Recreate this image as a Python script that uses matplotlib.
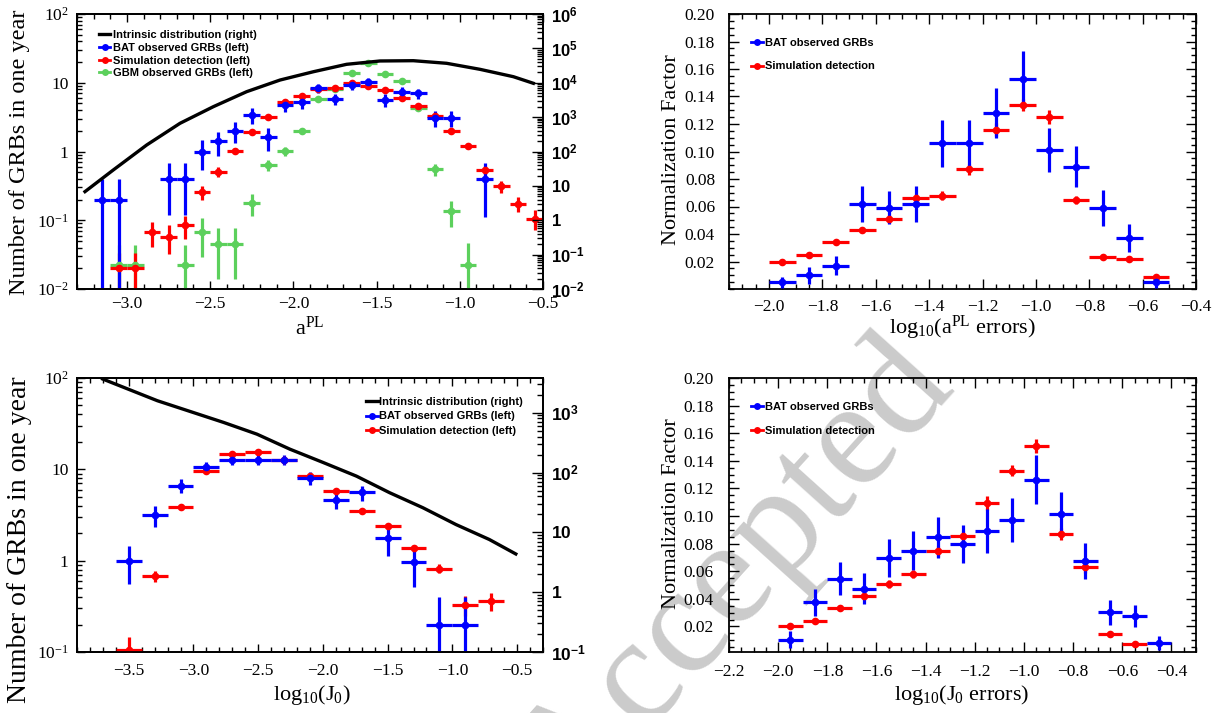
import matplotlib
matplotlib.use('Agg')
import matplotlib.pyplot as plt
from matplotlib.ticker import (FixedLocator, FixedFormatter, MultipleLocator,
                               NullFormatter, LogLocator, StrMethodFormatter)
from matplotlib.lines import Line2D
import numpy as np

# ---------------- data: top-left (a^PL) ----------------
tl_bat_x = [-3.15, -3.05, -2.75, -2.65, -2.55, -2.45, -2.35, -2.25, -2.15, -2.05, -1.95,
            -1.85, -1.75, -1.65, -1.55, -1.45, -1.35, -1.25, -1.15, -1.05, -0.85]
tl_bat_y = [0.2, 0.2, 0.4, 0.4, 1.0, 1.4, 2.0, 3.4, 1.6, 4.8, 5.2,
            8.3, 5.8, 9.3, 10.3, 5.7, 7.4, 7.0, 3.1, 3.1, 0.40]
tl_bat_e = [0.2, 0.2, 0.28, 0.28, 0.46, 0.55, 0.65, 0.85, 0.58, 1.0, 1.0,
            1.3, 1.1, 1.4, 1.5, 1.25, 1.2, 1.2, 0.8, 0.8, 0.29]

tl_sim_x = [-3.05, -2.95, -2.85, -2.75, -2.65, -2.55, -2.45, -2.35, -2.25, -2.15, -2.05,
            -1.95, -1.85, -1.75, -1.65, -1.55, -1.45, -1.35, -1.25, -1.15, -1.05,
            -0.95, -0.85, -0.75, -0.65, -0.55]
tl_sim_y = [0.02, 0.02, 0.068, 0.058, 0.085, 0.26, 0.51, 1.03, 1.9, 3.2, 5.2,
            6.4, 8.0, 8.5, 9.8, 8.9, 7.8, 6.1, 4.6, 3.3, 2.0,
            1.2, 0.53, 0.31, 0.175, 0.106]
tl_sim_e = [0.013, 0.013, 0.027, 0.026, 0.032, 0.06, 0.08, 0.11, 0.15, 0.2, 0.26,
            0.29, 0.32, 0.33, 0.36, 0.34, 0.32, 0.28, 0.24, 0.2, 0.16,
            0.12, 0.08, 0.06, 0.045, 0.035]

tl_gbm_x = [-3.05, -2.95, -2.65, -2.55, -2.45, -2.35, -2.25, -2.15, -2.05, -1.95,
            -1.85, -1.75, -1.65, -1.55, -1.45, -1.35, -1.25, -1.15, -1.05, -0.95]
tl_gbm_y = [0.022, 0.022, 0.022, 0.068, 0.045, 0.045, 0.18, 0.63, 1.02, 2.0,
            5.8, 8.0, 14.0, 19.6, 13.2, 10.7, 4.3, 0.55, 0.135, 0.022]
tl_gbm_e = [0.022, 0.022, 0.022, 0.039, 0.031, 0.031, 0.063, 0.118, 0.15, 0.21,
            0.36, 0.42, 0.55, 0.66, 0.54, 0.49, 0.31, 0.11, 0.055, 0.024]

tl_int_x = [-3.252, -3.082, -2.881, -2.681, -2.481, -2.281, -2.080, -1.880,
            -1.680, -1.479, -1.279, -1.079, -0.879, -0.678, -0.558]
tl_int_y = [6.8, 29, 155, 661, 2010, 5490, 12000, 20900,
            34400, 43000, 43800, 36800, 24600, 15000, 9640]

# ---------------- data: top-right (a^PL errors) ----------------
tr_x = [-1.95, -1.85, -1.75, -1.65, -1.55, -1.45, -1.35, -1.25, -1.15, -1.05,
        -0.95, -0.85, -0.75, -0.65, -0.55]
tr_bat_y = [0.005, 0.010, 0.017, 0.062, 0.059, 0.062, 0.106, 0.106, 0.128, 0.153,
            0.101, 0.089, 0.059, 0.037, 0.005]
tr_bat_e = [0.004, 0.006, 0.007, 0.013, 0.012, 0.013, 0.017, 0.017, 0.018, 0.020,
            0.016, 0.015, 0.013, 0.010, 0.004]
tr_sim_y = [0.020, 0.025, 0.034, 0.043, 0.051, 0.066, 0.068, 0.087, 0.116, 0.134,
            0.125, 0.065, 0.0235, 0.022, 0.0085]
tr_sim_e = [0.002, 0.002, 0.002, 0.002, 0.003, 0.003, 0.003, 0.004, 0.005, 0.0045,
            0.005, 0.003, 0.002, 0.002, 0.0015]

# ---------------- data: bottom-left (J0) ----------------
bl_bat_x = [-3.5, -3.3, -3.1, -2.9, -2.7, -2.5, -2.3, -2.1, -1.9, -1.7, -1.5, -1.3, -1.1, -0.9]
bl_bat_y = [1.0, 3.16, 6.6, 10.7, 12.7, 12.7, 12.8, 8.0, 4.6, 5.6, 1.78, 0.97, 0.196, 0.196]
bl_bat_e = [0.45, 0.8, 1.15, 1.45, 1.6, 1.6, 1.6, 1.25, 0.95, 1.05, 0.65, 0.45, 0.2, 0.2]
bl_sim_x = [-3.5, -3.3, -3.1, -2.9, -2.7, -2.5, -2.3, -2.1, -1.9, -1.7, -1.5, -1.3, -1.1, -0.9, -0.7]
bl_sim_y = [0.105, 0.68, 3.9, 9.5, 14.7, 15.4, 12.7, 8.5, 5.8, 3.5, 2.4, 1.36, 0.82, 0.33, 0.36]
bl_sim_e = [0.04, 0.09, 0.2, 0.3, 0.37, 0.38, 0.34, 0.28, 0.23, 0.18, 0.15, 0.11, 0.09, 0.085, 0.08]
bl_int_x = [-3.702, -3.279, -2.767, -2.510, -2.254, -1.998, -1.741, -1.485,
            -1.228, -0.972, -0.715, -0.510]
bl_int_y = [3660, 1585, 687, 438, 245, 147, 87, 46, 25.8, 13.5, 7.6, 4.35]

# ---------------- data: bottom-right (J0 errors) ----------------
br_x = [-1.95, -1.85, -1.75, -1.65, -1.55, -1.45, -1.35, -1.25, -1.15, -1.05,
        -0.95, -0.85, -0.75, -0.65, -0.55, -0.45]
br_bat_y = [0.0104, 0.0374, 0.0546, 0.0474, 0.0696, 0.0749, 0.0846, 0.0797, 0.0894, 0.0969,
            0.1264, 0.1017, 0.0672, 0.0302, 0.0278, 0.008]
br_bat_e = [0.006, 0.010, 0.012, 0.011, 0.014, 0.014, 0.015, 0.014, 0.016, 0.016,
            0.018, 0.016, 0.013, 0.009, 0.008, 0.005]
br_sim_x = [-1.95, -1.85, -1.75, -1.65, -1.55, -1.45, -1.35, -1.25, -1.15, -1.05,
            -0.95, -0.85, -0.75, -0.65, -0.55]
br_sim_y = [0.0205, 0.0242, 0.0336, 0.0423, 0.0507, 0.058, 0.0744, 0.0853, 0.1094, 0.1329,
            0.1505, 0.087, 0.063, 0.0143, 0.0075]
br_sim_e = [0.002, 0.002, 0.002, 0.003, 0.003, 0.003, 0.004, 0.004, 0.005, 0.004,
            0.005, 0.004, 0.004, 0.002, 0.0015]

log_left_ticks = [1e-2, 1e-1, 1, 10, 100]
log_left_labels = [r'$\mathrm{10^{-2}}$', r'$\mathrm{10^{-1}}$', '1', '10', r'$\mathrm{10^{2}}$']
tl_right_ticks = [1e-2, 1e-1, 1, 10, 1e2, 1e3, 1e4, 1e5, 1e6]
tl_right_labels = [r'$\mathbf{10^{-2}}$', r'$\mathbf{10^{-1}}$', r'$\mathbf{1}$', r'$\mathbf{10}$',
                   r'$\mathbf{10^{2}}$', r'$\mathbf{10^{3}}$', r'$\mathbf{10^{4}}$',
                   r'$\mathbf{10^{5}}$', r'$\mathbf{10^{6}}$']
bl_left_ticks = [1e-1, 1, 10, 100]
bl_left_labels = [r'$\mathrm{10^{-1}}$', '1', '10', r'$\mathrm{10^{2}}$']
bl_right_ticks = [1e-1, 1, 10, 1e2, 1e3]
bl_right_labels = [r'$\mathbf{10^{-1}}$', r'$\mathbf{1}$', r'$\mathbf{10}$',
                   r'$\mathbf{10^{2}}$', r'$\mathbf{10^{3}}$']
norm_ticks = [0.02, 0.04, 0.06, 0.08, 0.10, 0.12, 0.14, 0.16, 0.18, 0.20]

# ---------------- style ----------------
plt.rcParams['font.family'] = ['Liberation Serif', 'DejaVu Serif']
plt.rcParams['mathtext.fontset'] = 'custom'
plt.rcParams['mathtext.rm'] = 'Liberation Serif'
plt.rcParams['mathtext.it'] = 'Liberation Serif:italic'
plt.rcParams['mathtext.bf'] = 'Liberation Sans:bold'
plt.rcParams['axes.linewidth'] = 1.3

BLUE = '#0000ff'
RED = '#ff0000'
GREEN = '#5cd05c'
LEG = {'family': 'Liberation Sans', 'weight': 'bold', 'size': 8}

W, H = 1226, 713
fig = plt.figure(figsize=(W / 100, H / 100), dpi=100)


def rect(l, t, r, b):
    return [l / W, 1 - b / H, (r - l) / W, (b - t) / H]


def fx(x):
    return x / W


def fy(y):
    return 1 - y / H


def eb(ax, x, y, xe, ye, c):
    ax.errorbar(x, y, xerr=xe, yerr=ye, fmt='o', color=c, ms=5.5, mew=0,
                elinewidth=2.3, capsize=0, zorder=3)


def ticks_in(ax, maj=7, mnr=3.5, **kw):
    ax.tick_params(which='both', direction='in', width=1.0, **kw)
    ax.tick_params(which='major', length=maj)
    ax.tick_params(which='minor', length=mnr)


ax_tl = fig.add_axes(rect(77, 14, 543, 289))
ax_tr = fig.add_axes(rect(729, 14, 1196, 289))
ax_bl = fig.add_axes(rect(77, 378, 543, 652))
ax_br = fig.add_axes(rect(729, 378, 1196, 652))
for a in (ax_tl, ax_tr, ax_bl, ax_br):
    a.set_facecolor('none')

# ---- watermark (behind everything) ----
fig.text(fx(737), fy(578), 'Accepted', rotation=48, fontsize=110, color='#cbcbcb',
         family='Liberation Serif', ha='center', va='center', rotation_mode='anchor', zorder=-1)

# ---------------- top-left ----------------
ax = ax_tl
ax.set_xlim(-3.3, -0.5)
ax.set_yscale('log')
ax.set_ylim(1e-2, 1e2)
eb(ax, tl_gbm_x, tl_gbm_y, 0.05, tl_gbm_e, GREEN)
eb(ax, tl_sim_x, tl_sim_y, 0.05, tl_sim_e, RED)
eb(ax, tl_bat_x, tl_bat_y, 0.05, tl_bat_e, BLUE)
ax.yaxis.set_major_locator(FixedLocator(log_left_ticks))
ax.yaxis.set_major_formatter(FixedFormatter(log_left_labels))
ax.yaxis.set_minor_locator(LogLocator(base=10, subs=np.arange(2, 10) * 1.0, numticks=30))
ax.yaxis.set_minor_formatter(NullFormatter())
ax.xaxis.set_major_locator(MultipleLocator(0.5))
ax.xaxis.set_minor_locator(MultipleLocator(0.1))
ticks_in(ax, maj=6, mnr=3.5, top=True, right=False, labelsize=12.5)
ax.tick_params(axis='y', pad=6)
ax.tick_params(axis='x', pad=5)
ax2 = ax.twinx()
ax2.set_yscale('log')
ax2.set_ylim(1e-2, 1e6)
ax2.plot(tl_int_x, tl_int_y, color='black', lw=2.4, zorder=2)
ax2.yaxis.set_major_locator(FixedLocator(tl_right_ticks))
ax2.yaxis.set_major_formatter(FixedFormatter(tl_right_labels))
ax2.yaxis.set_minor_locator(LogLocator(base=10, subs=np.arange(2, 10) * 1.0, numticks=30))
ax2.yaxis.set_minor_formatter(NullFormatter())
ticks_in(ax2, maj=8, mnr=4.5, labelsize=12, pad=6)
ax2.set_facecolor('none')
h_tl = [Line2D([], [], color='black', lw=2.4),
        Line2D([], [], color=BLUE, lw=2, marker='o', ms=5, mew=0),
        Line2D([], [], color=RED, lw=2, marker='o', ms=5, mew=0),
        Line2D([], [], color=GREEN, lw=2, marker='o', ms=5, mew=0)]
ax2.legend(h_tl, ['Intrinsic distribution (right)', 'BAT observed GRBs (left)',
                  'Simulation detection (left)', 'GBM observed GRBs (left)'],
           loc='upper left', bbox_to_anchor=(fx(99), fy(30)), bbox_transform=fig.transFigure,
           frameon=False, prop=LEG, handlelength=1.0, handletextpad=0.25,
           labelspacing=0.25, borderpad=0, borderaxespad=0)

# ---------------- top-right ----------------
ax = ax_tr
ax.set_xlim(-2.15, -0.4)
ax.set_ylim(0, 0.2)
eb(ax, tr_x, tr_sim_y, 0.05, tr_sim_e, RED)
eb(ax, tr_x, tr_bat_y, 0.05, tr_bat_e, BLUE)
ax.xaxis.set_major_locator(MultipleLocator(0.2))
ax.xaxis.set_minor_locator(MultipleLocator(0.05))
ax.yaxis.set_major_locator(FixedLocator(norm_ticks))
ax.yaxis.set_major_formatter(StrMethodFormatter('{x:.2f}'))
ax.yaxis.set_minor_locator(MultipleLocator(0.005))
ticks_in(ax, maj=7, mnr=3.5, top=True, right=True, labelsize=12.5)
ax.tick_params(axis='y', pad=10)
ax.tick_params(axis='x', pad=7)
h2 = [Line2D([], [], color=BLUE, lw=2, marker='o', ms=5, mew=0),
      Line2D([], [], color=RED, lw=2, marker='o', ms=5, mew=0)]
ax.legend(h2, ['BAT observed GRBs', 'Simulation detection'],
          loc='upper left', bbox_to_anchor=(fx(751), fy(37.5)), bbox_transform=fig.transFigure,
          frameon=False, prop=LEG, handlelength=1.05, handletextpad=0.2,
          labelspacing=1.25, borderpad=0, borderaxespad=0)

# ---------------- bottom-left ----------------
ax = ax_bl
ax.set_xlim(-3.9, -0.3)
ax.set_yscale('log')
ax.set_ylim(1e-1, 1e2)
eb(ax, bl_sim_x, bl_sim_y, 0.1, bl_sim_e, RED)
eb(ax, bl_bat_x, bl_bat_y, 0.1, bl_bat_e, BLUE)
ax.yaxis.set_major_locator(FixedLocator(bl_left_ticks))
ax.yaxis.set_major_formatter(FixedFormatter(bl_left_labels))
ax.yaxis.set_minor_locator(LogLocator(base=10, subs=np.arange(2, 10) * 1.0, numticks=30))
ax.yaxis.set_minor_formatter(NullFormatter())
ax.xaxis.set_major_locator(MultipleLocator(0.5))
ax.xaxis.set_minor_locator(MultipleLocator(0.1))
ticks_in(ax, maj=6, mnr=3.5, top=True, right=False, labelsize=12.5)
ax.tick_params(axis='y', pad=6)
ax.tick_params(axis='x', pad=8)
ax4 = ax.twinx()
ax4.set_yscale('log')
ax4.set_ylim(1e-1, 10 ** 3.58)
ax4.plot(bl_int_x, bl_int_y, color='black', lw=2.4, zorder=2)
ax4.yaxis.set_major_locator(FixedLocator(bl_right_ticks))
ax4.yaxis.set_major_formatter(FixedFormatter(bl_right_labels))
ax4.yaxis.set_minor_locator(LogLocator(base=10, subs=np.arange(2, 10) * 1.0, numticks=30))
ax4.yaxis.set_minor_formatter(NullFormatter())
ticks_in(ax4, maj=8, mnr=4.5, labelsize=12.5, pad=6)
ax4.set_facecolor('none')
ax4.legend(h_tl[:3], ['Intrinsic distribution (right)', 'BAT observed GRBs (left)',
                      'Simulation detection (left)'],
           loc='upper left', bbox_to_anchor=(fx(366), fy(397)), bbox_transform=fig.transFigure,
           frameon=False, prop=LEG, handlelength=1.05, handletextpad=0.15,
           labelspacing=0.4, borderpad=0, borderaxespad=0)

# ---------------- bottom-right ----------------
ax = ax_br
ax.set_xlim(-2.2, -0.3)
ax.set_ylim(0.0015, 0.2)
eb(ax, br_sim_x, br_sim_y, 0.05, br_sim_e, RED)
eb(ax, br_x, br_bat_y, 0.05, br_bat_e, BLUE)
ax.xaxis.set_major_locator(MultipleLocator(0.2))
ax.xaxis.set_minor_locator(MultipleLocator(0.05))
ax.yaxis.set_major_locator(FixedLocator(norm_ticks))
ax.yaxis.set_major_formatter(StrMethodFormatter('{x:.2f}'))
ax.yaxis.set_minor_locator(MultipleLocator(0.005))
ticks_in(ax, maj=7, mnr=3.5, top=True, right=True, labelsize=12.5)
ax.tick_params(axis='y', pad=11)
ax.tick_params(axis='x', pad=9)
ax.legend(h2, ['BAT observed GRBs', 'Simulation detection'],
          loc='upper left', bbox_to_anchor=(fx(751), fy(402)), bbox_transform=fig.transFigure,
          frameon=False, prop=LEG, handlelength=1.05, handletextpad=0.2,
          labelspacing=1.25, borderpad=0, borderaxespad=0)

# ---------------- axis titles ----------------
fig.text(fx(20), fy(152), 'Number of GRBs in one year', rotation=90, ha='center', va='center', fontsize=17.5)
fig.text(fx(20), fy(540), 'Number of GRBs in one year', rotation=90, ha='center', va='center', fontsize=20)
fig.text(fx(672), fy(150), 'Normalization Factor', rotation=90, ha='center', va='center', fontsize=16)
fig.text(fx(672), fy(514), 'Normalization Factor', rotation=90, ha='center', va='center', fontsize=16)
fig.text(fx(310), fy(328), r'a$^{\rm PL}$', ha='center', va='center', fontsize=16)
fig.text(fx(962), fy(328), r'log$_{10}$(a$^{\rm PL}$ errors)', ha='center', va='center', fontsize=16)
fig.text(fx(312), fy(695), r'log$_{10}$(J$_0$)', ha='center', va='center', fontsize=16)
fig.text(fx(962), fy(695), r'log$_{10}$(J$_0$ errors)', ha='center', va='center', fontsize=16)

fig.savefig('out.png', dpi=100)
